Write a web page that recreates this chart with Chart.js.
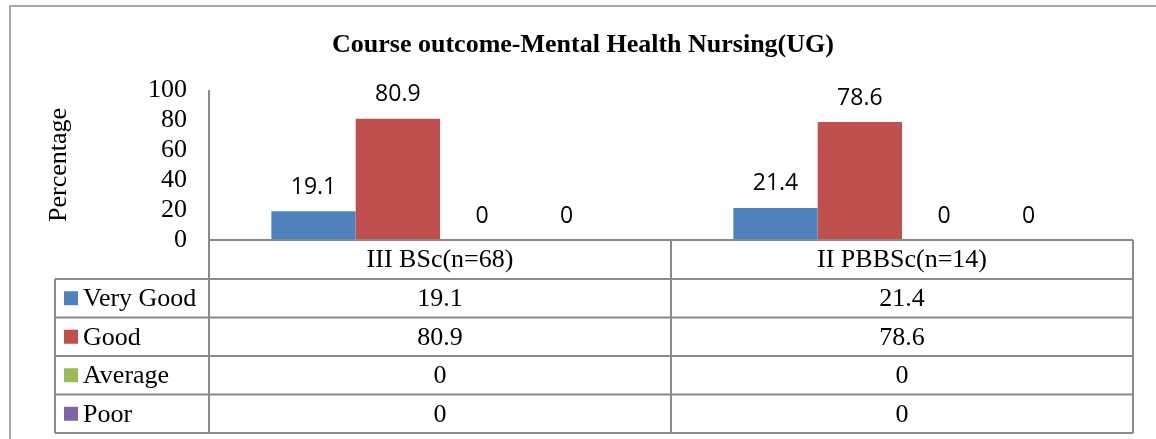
<!DOCTYPE html>
<html><head><meta charset="utf-8">
<script src="https://cdn.jsdelivr.net/npm/chart.js@4/dist/chart.umd.min.js"></script>
<style>html,body{margin:0;padding:0;background:#fff;} #wrap{width:1156px;height:439px;position:relative;}</style>
</head><body><div id="wrap"><canvas id="c" width="1156" height="439"></canvas></div>
<script>
const chartTitle = 'Course outcome-Mental Health Nursing(UG)';
const axisTitle = 'Percentage';
const categories = ['III BSc(n=68)', 'II PBBSc(n=14)'];
const seriesNames = ['Very Good', 'Good', 'Average', 'Poor'];
const veryGood = [19.1, 21.4];
const good = [80.9, 78.6];
const average = [0, 0];
const poor = [0, 0];
const yTicks = [0, 20, 40, 60, 80, 100];
const seriesColors = ['#4F81BD', '#C0504D', '#9BBB59', '#8064A2'];
const seriesValues = [veryGood, good, average, poor];

const SERIF = '"Liberation Serif", "Times New Roman", serif';
const LINE = '#8a8a8a';

const tablePlugin = {
  id: 'tablePlugin',
  afterDraw(chart) {
    const ctx = chart.ctx;
    const ca = chart.chartArea;
    const xs = chart.scales.x;
    ctx.save();
    // outer frame
    ctx.strokeStyle = LINE; ctx.lineWidth = 1.5;
    ctx.beginPath(); ctx.moveTo(10, 439); ctx.lineTo(10, 6); ctx.lineTo(1156, 6); ctx.stroke();
    // title
    ctx.fillStyle = '#000';
    ctx.font = 'bold 26px ' + SERIF;
    ctx.textAlign = 'center'; ctx.textBaseline = 'middle';
    ctx.fillText(chartTitle, 583, 45);
    // y axis line
    ctx.strokeStyle = LINE; ctx.lineWidth = 2;
    ctx.beginPath(); ctx.moveTo(ca.left, ca.top); ctx.lineTo(ca.left, ca.bottom); ctx.stroke();
    // data labels
    ctx.font = '23px "Open Sans", sans-serif';
    ctx.fillStyle = '#000';
    chart.data.datasets.forEach((ds, di) => {
      const meta = chart.getDatasetMeta(di);
      meta.data.forEach((bar, i) => {
        ctx.fillText(String(ds.data[i]), bar.x, bar.y - 24);
      });
    });
    // table
    const n = categories.length;
    const colW = (ca.right - ca.left) / n;
    const top = ca.bottom;
    const headerH = 39;
    const rowH = 38.5;
    const legLeft = 55;
    const bottom = top + headerH + rowH * seriesNames.length;
    ctx.strokeStyle = LINE; ctx.lineWidth = 2;
    ctx.beginPath();
    // header top line (x axis)
    ctx.moveTo(ca.left, top); ctx.lineTo(ca.right, top);
    // row lines
    for (let r = 0; r <= seriesNames.length; r++) {
      const y = top + headerH + r * rowH;
      ctx.moveTo(legLeft, y); ctx.lineTo(ca.right, y);
    }
    // vertical lines
    ctx.moveTo(legLeft, top + headerH); ctx.lineTo(legLeft, bottom);
    for (let c = 0; c <= n; c++) {
      const x = ca.left + c * colW;
      ctx.moveTo(x, top); ctx.lineTo(x, bottom);
    }
    ctx.stroke();
    ctx.fillStyle = '#000';
    ctx.font = '26px ' + SERIF;
    ctx.textAlign = 'center'; ctx.textBaseline = 'middle';
    categories.forEach((cat, i) => {
      ctx.fillText(cat, xs.getPixelForValue(i), top + headerH / 2 + 1);
    });
    seriesNames.forEach((name, r) => {
      const cy = top + headerH + r * rowH + rowH / 2;
      ctx.fillStyle = seriesColors[r];
      ctx.fillRect(64, cy - 7, 14, 14);
      ctx.fillStyle = '#000';
      ctx.textAlign = 'left';
      ctx.fillText(name, 83, cy + 1);
      ctx.textAlign = 'center';
      seriesValues[r].forEach((v, i) => {
        ctx.fillText(String(v), xs.getPixelForValue(i), cy + 1);
      });
    });
    ctx.restore();
  }
};

new Chart(document.getElementById('c'), {
  type: 'bar',
  data: {
    labels: categories,
    datasets: seriesNames.map((name, i) => ({
      label: name,
      data: seriesValues[i],
      backgroundColor: seriesColors[i],
      borderWidth: 0,
      categoryPercentage: 0.73,
      barPercentage: 1.0
    }))
  },
  options: {
    responsive: false,
    devicePixelRatio: 1,
    animation: false,
    layout: { padding: { top: 90, left: 0, right: 23, bottom: 199 } },
    plugins: { legend: { display: false }, title: { display: false }, tooltip: { enabled: false } },
    scales: {
      x: { display: false, offset: true, grid: { display: false } },
      y: {
        min: 0, max: 100,
        grid: { display: false, drawTicks: false },
        border: { display: false },
        afterFit(scale) { scale.width = 209; },
        afterBuildTicks(scale) { scale.ticks = yTicks.map(v => ({ value: v })); },
        ticks: {
          stepSize: 20, autoSkip: false, padding: 22, color: '#000',
          font: { family: SERIF, size: 26, lineHeight: 1 }
        },
        title: {
          display: true, text: axisTitle, color: '#000',
          font: { family: SERIF, size: 26, lineHeight: 1.2 },
          padding: { top: 44, bottom: 0 }
        }
      }
    }
  },
  plugins: [tablePlugin]
});
</script></body></html>
